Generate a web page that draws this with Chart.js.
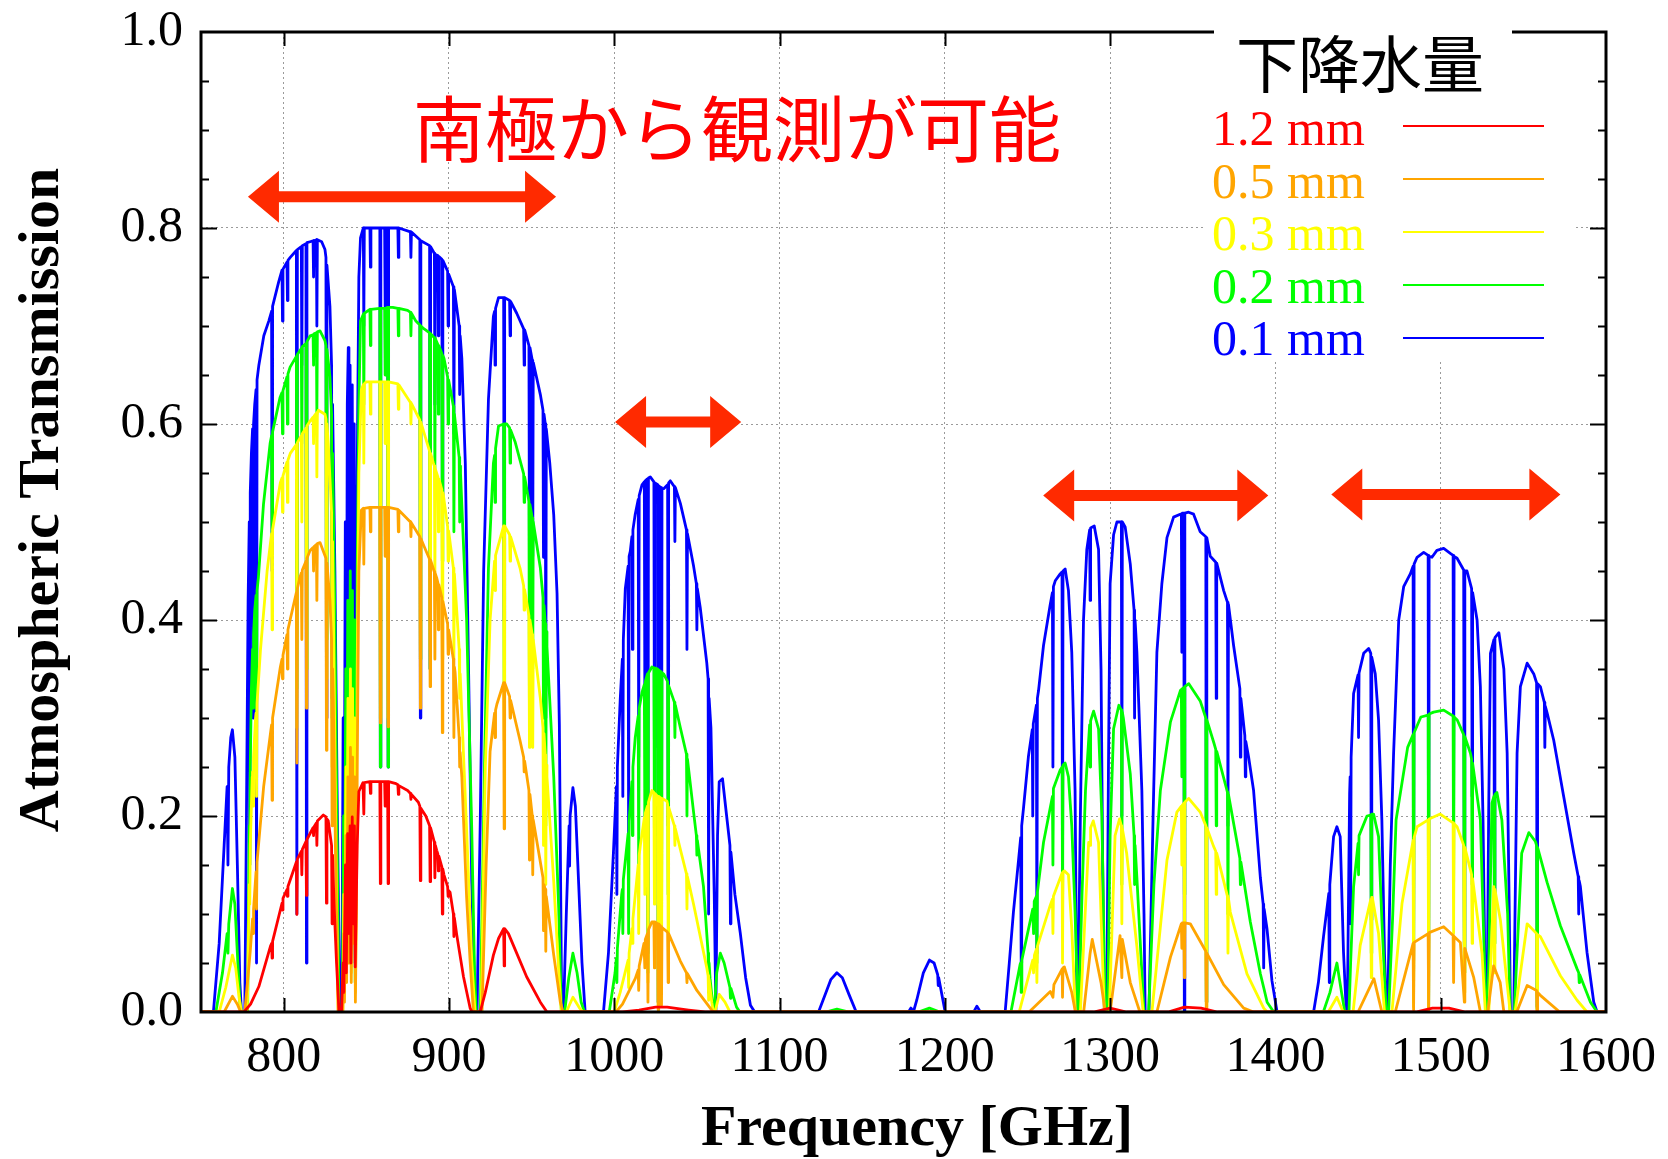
<!DOCTYPE html>
<html>
<head>
<meta charset="utf-8">
<script src="https://cdn.jsdelivr.net/npm/chart.js@4.4.1/dist/chart.umd.min.js"></script>
<style>
  html, body { margin: 0; padding: 0; background: #fff; }
  canvas { display: block; }
</style>
</head>
<body>
<canvas id="transmission" width="1668" height="1159" style="width:1668px;height:1159px"></canvas>
<script>
// Atmospheric transmission vs frequency for five precipitable water vapour levels.
// Each series is a list of [frequency GHz, transmission] pairs.

const pwvLabels = ["1.2 mm", "0.5 mm", "0.3 mm", "0.2 mm", "0.1 mm"];
const pwvColors = ["#ff0000", "#ffa500", "#ffff00", "#00ff00", "#0000ff"];

const xTickValues = [800, 900, 1000, 1100, 1200, 1300, 1400, 1500, 1600];
const yTickValues = [0, 0.2, 0.4, 0.6, 0.8, 1.0];

// windows observable from the South Pole: [from GHz, to GHz, height]
const arrowSpans = [
    [778.4, 964.8, 0.832],
    [1000.5, 1076.8, 0.602],
    [1259.5, 1395.7, 0.527],
    [1433.8, 1572.4, 0.528],
];

const pwv12 = [
    [750, 0], [776, 0], [780, 0.008], [785, 0.026], [792, 0.067], [792.7, 0.07], [793, 0.055], [793.3, 0.072],
    [799, 0.111], [799.3, 0.104], [799.6, 0.116], [802, 0.125], [802.3, 0.118], [802.6, 0.128],
    [807.7, 0.153], [808, 0.0996], [808.3, 0.156], [810.7, 0.164], [811, 0.14], [811.3, 0.166],
    [813.5, 0.174], [813.8, 0.119], [814.1, 0.176], [817.8, 0.188], [818.1, 0.18], [818.4, 0.189],
    [819.8, 0.193], [820.1, 0.17], [820.4, 0.195], [824, 0.201], [825.6, 0.199], [825.9, 0.111], [826.2, 0.197],
    [827, 0.195], [829, 0.17], [829.3, 0.09], [829.6, 0.16], [830.5, 0.11], [832, 0.05], [833.5, 0],
    [835, 0], [836, 0.05], [836.4, 0.02], [837.4, 0.15], [837.9, 0.04], [838.7, 0.182], [839.3, 0.08],
    [840.2, 0.19], [840.7, 0.05], [841.5, 0.199], [842.1, 0.09], [842.8, 0.19], [843.3, 0.046], [844, 0.12],
    [844.5, 0.17], [845.5, 0.225], [848, 0.234], [848.5, 0.202], [848.8, 0.234], [852.2, 0.235], [852.5, 0.223],
    [852.8, 0.235], [858.2, 0.235], [858.5, 0.131], [858.8, 0.235], [861.1, 0.235], [861.4, 0.21], [861.7, 0.235],
    [862.9, 0.235], [863.2, 0.131], [863.5, 0.235], [868, 0.233], [869.1, 0.232], [869.4, 0.222], [869.7, 0.231],
    [875, 0.226], [876.7, 0.223], [877, 0.217], [877.3, 0.222], [881.5, 0.214], [882.4, 0.21], [882.7, 0.134],
    [883, 0.208], [886, 0.2], [888.3, 0.19], [888.6, 0.133], [888.9, 0.188], [891.2, 0.173], [891.5, 0.137],
    [891.8, 0.17], [892.6, 0.165], [893.3, 0.161], [893.6, 0.144], [893.9, 0.159], [895.7, 0.148], [896, 0.1],
    [896.3, 0.146], [897, 0.14], [899.2, 0.128], [899.5, 0.118], [899.8, 0.124], [900.7, 0.122], [902.7, 0.1],
    [903, 0.077], [903.3, 0.096], [904.7, 0.079], [908.8, 0.036], [912.8, 0.004], [914, 0],
    [918.9, 0], [922, 0.02], [926.9, 0.058], [930, 0.075], [933.1, 0.085], [933.4, 0.047], [933.7, 0.085],
    [936, 0.08], [939, 0.068], [947, 0.036], [955.3, 0.01], [959.3, 0],
    [1005, 0], [1015, 0.002], [1025, 0.005], [1032, 0.005], [1045, 0.002], [1055, 0],
    [1290, 0], [1300, 0.004], [1310, 0], [1335, 0], [1345, 0.005], [1355, 0.004], [1365, 0],
    [1485, 0], [1495, 0.004], [1505, 0.004], [1515, 0], [1600, 0],
];

const pwv05 = [
    [750, 0], [764, 0], [769, 0.016], [772, 0.008], [774, 0],
    [776.5, 0], [779.8, 0.062], [781.2, 0.095], [781.5, 0.08], [781.8, 0.105], [783.3, 0.143], [783.6, 0.105],
    [783.9, 0.153], [787.9, 0.23], [792, 0.284], [792.7, 0.293], [793, 0.216], [793.3, 0.3], [798, 0.352],
    [799, 0.36], [799.3, 0.34], [799.6, 0.364], [802, 0.385], [802.3, 0.35], [802.6, 0.39], [803.9, 0.4],
    [807.7, 0.428], [808, 0.254], [808.3, 0.432], [809.9, 0.444], [810.7, 0.448], [811, 0.38], [811.3, 0.451],
    [813.5, 0.46], [813.8, 0.31], [814.1, 0.463], [816, 0.471], [817.8, 0.474], [818.1, 0.45], [818.4, 0.475],
    [819.8, 0.477], [820.1, 0.42], [820.4, 0.478], [822, 0.479], [825.6, 0.463], [825.9, 0.267], [826.2, 0.458],
    [828, 0.42], [829, 0.38], [829.3, 0.19], [829.6, 0.35], [830, 0.32], [831.5, 0.15], [833, 0],
    [835.8, 0], [836.4, 0.08], [836.8, 0.01], [837.7, 0.18], [838.1, 0.03], [838.9, 0.24], [839.5, 0.05],
    [840.4, 0.27], [840.9, 0.03], [841.7, 0.26], [842.2, 0.07], [842.9, 0.24], [843.4, 0.01], [844, 0.1],
    [844.5, 0.25], [845.5, 0.45], [847, 0.512], [848.2, 0.514], [848.5, 0.457], [848.8, 0.514], [852.2, 0.515],
    [852.5, 0.49], [852.8, 0.515], [858.2, 0.515], [858.5, 0.295], [858.8, 0.515], [861.1, 0.515], [861.4, 0.465],
    [861.7, 0.515], [862.9, 0.515], [863.2, 0.291], [863.5, 0.515], [869.1, 0.513], [869.4, 0.49], [869.7, 0.512],
    [876.7, 0.5], [877, 0.485], [877.3, 0.499], [882.4, 0.485], [882.7, 0.31], [883, 0.483], [885, 0.475],
    [888.3, 0.462], [888.6, 0.332], [888.9, 0.461], [891.2, 0.449], [891.5, 0.36], [891.8, 0.447], [892.6, 0.443],
    [893.3, 0.438], [893.6, 0.39], [893.9, 0.436], [895.7, 0.423], [896, 0.285], [896.3, 0.419], [898.7, 0.4],
    [899.2, 0.396], [899.5, 0.365], [899.8, 0.39], [902.7, 0.36], [903, 0.28], [903.3, 0.352], [903.7, 0.347],
    [906.2, 0.28], [906.5, 0.25], [906.8, 0.265], [907.8, 0.24], [910.7, 0.117], [912.8, 0.052], [914.8, 0],
    [920, 0], [922.5, 0.15], [924.9, 0.266], [927.6, 0.305], [927.9, 0.28], [928.2, 0.308], [929, 0.314],
    [933.1, 0.336], [933.4, 0.187], [933.7, 0.336], [936.7, 0.322], [937, 0.3], [937.3, 0.318], [943, 0.277],
    [945.2, 0.26], [945.5, 0.245], [945.8, 0.256], [948.4, 0.226], [948.7, 0.155], [949, 0.222], [950.4, 0.2],
    [950.7, 0.14], [951, 0.196], [956.9, 0.137], [957.2, 0.083], [957.5, 0.13], [958.3, 0.125], [958.6, 0.062],
    [958.9, 0.118], [963.4, 0.058], [967.4, 0.01], [969, 0],
    [1001, 0], [1005, 0.008], [1012.7, 0.034], [1014.5, 0.043], [1014.8, 0.022], [1015.1, 0.047], [1018, 0.07],
    [1018.5, 0.045], [1018.8, 0.074], [1020.1, 0.08], [1020.4, 0.01], [1020.7, 0.084], [1022.8, 0.092],
    [1024, 0.092], [1024.3, 0.045], [1024.6, 0.092], [1026.3, 0.09], [1026.6, 0.002], [1026.9, 0.09],
    [1028.3, 0.087], [1028.6, 0.007], [1028.9, 0.086], [1031.9, 0.082], [1032.3, 0.081], [1032.6, 0.03],
    [1032.9, 0.08], [1040, 0.052], [1043.7, 0.04], [1044, 0.03], [1044.3, 0.039], [1050, 0.022], [1059, 0.002], [1060, 0],
    [1251, 0], [1263.8, 0.021], [1265.4, 0.015], [1266, 0.028], [1271, 0.044], [1271.2, 0.015], [1271.5, 0.045],
    [1272.3, 0.046], [1276.8, 0.02], [1279, 0],
    [1284, 0], [1287.9, 0.06], [1289.2, 0.074], [1294.5, 0.03], [1297, 0],
    [1300, 0], [1306, 0.078], [1307.1, 0.035], [1307.4, 0.074], [1312.2, 0.03], [1318, 0],
    [1328.3, 0], [1336.5, 0.056], [1343.1, 0.09], [1343.4, 0.065], [1343.7, 0.091], [1344.6, 0.091], [1344.9, 0.035],
    [1345.2, 0.091], [1348.5, 0.09], [1357.9, 0.062], [1358.2, 0.002], [1358.5, 0.06], [1368.7, 0.028],
    [1380.8, 0.004], [1386.8, 0],
    [1450, 0], [1459.6, 0.034], [1464.4, 0],
    [1472.5, 0], [1483.3, 0.07], [1483.6, 0.002], [1483.9, 0.071], [1492.4, 0.08], [1492.7, 0], [1493, 0.081],
    [1501.8, 0.087], [1507.5, 0.078], [1507.8, 0.03], [1508.1, 0.077], [1511.9, 0.071], [1514.3, 0.01],
    [1514.6, 0.065], [1520, 0.035], [1524, 0],
    [1528.5, 0], [1532, 0.047], [1536, 0.03], [1538.2, 0],
    [1546, 0], [1552.3, 0.027], [1558, 0.022], [1558.3, 0], [1558.6, 0.02], [1560.3, 0.017], [1572, 0], [1600, 0],
];

const pwv03 = [
    [750, 0], [761, 0], [765, 0.025], [769, 0.058], [771, 0.045], [773, 0.015], [774.5, 0],
    [778, 0], [779.2, 0.13], [779.5, 0.11], [779.8, 0.17], [781, 0.24], [781.2, 0.245], [781.5, 0.21],
    [781.8, 0.26], [783, 0.3], [783.3, 0.305], [783.6, 0.22], [783.9, 0.315], [786, 0.37], [790, 0.45],
    [792.7, 0.488], [793, 0.39], [793.3, 0.492], [798, 0.54], [799, 0.545], [799.3, 0.51], [799.6, 0.547],
    [802, 0.561], [802.3, 0.52], [802.6, 0.563], [804, 0.57], [807.7, 0.579], [808, 0.29], [808.3, 0.581],
    [810, 0.586], [810.7, 0.588], [811, 0.5], [811.3, 0.59], [813.5, 0.596], [813.8, 0.35], [814.1, 0.598],
    [816, 0.603], [817.8, 0.607], [818.1, 0.58], [818.4, 0.608], [819.8, 0.611], [820.1, 0.546], [820.4, 0.612],
    [821, 0.614], [825, 0.61], [825.6, 0.605], [825.9, 0.34], [826.2, 0.6], [827, 0.58], [829, 0.51],
    [829.3, 0.25], [829.6, 0.48], [830.5, 0.35], [832, 0.12], [833, 0],
    [835.8, 0], [836.4, 0.12], [836.8, 0.02], [837.7, 0.25], [838.1, 0.05], [838.9, 0.32], [839.5, 0.08],
    [840.4, 0.35], [840.9, 0.04], [841.7, 0.33], [842.2, 0.1], [842.9, 0.3], [843.4, 0.02], [844, 0.15],
    [844.5, 0.35], [845.5, 0.55], [847, 0.635], [848.2, 0.64], [848.5, 0.56], [848.8, 0.641], [850, 0.643],
    [852.2, 0.643], [852.5, 0.61], [852.8, 0.643], [858.2, 0.643], [858.5, 0.3], [858.8, 0.643], [861.1, 0.643],
    [861.4, 0.58], [861.7, 0.643], [862.9, 0.643], [863.2, 0.3], [863.5, 0.643], [869.1, 0.641], [869.4, 0.615],
    [869.7, 0.64], [876.7, 0.622], [877, 0.6], [877.3, 0.621], [882.4, 0.604], [882.7, 0.37], [883, 0.602],
    [888.3, 0.572], [888.6, 0.37], [888.9, 0.57], [890.6, 0.56], [891.2, 0.557], [891.5, 0.445], [891.8, 0.554],
    [893.3, 0.546], [893.6, 0.49], [893.9, 0.544], [895.7, 0.533], [896, 0.36], [896.3, 0.53], [896.6, 0.528],
    [899.2, 0.495], [899.5, 0.46], [899.8, 0.491], [902.7, 0.453], [903, 0.36], [903.3, 0.447], [906.2, 0.37],
    [906.5, 0.32], [906.8, 0.345], [910.7, 0.186], [913.8, 0.052], [915.8, 0],
    [919.5, 0], [922, 0.25], [924.9, 0.4], [927.6, 0.46], [927.9, 0.43], [928.2, 0.466], [933.1, 0.496],
    [933.4, 0.277], [933.7, 0.496], [936.7, 0.487], [937, 0.46], [937.3, 0.485], [943, 0.453], [945.2, 0.435],
    [945.5, 0.41], [945.8, 0.431], [948.4, 0.404], [948.7, 0.27], [949, 0.4], [950.4, 0.385], [950.7, 0.27],
    [951, 0.38], [955.3, 0.32], [956.9, 0.29], [957.2, 0.17], [957.5, 0.284], [958.3, 0.262], [958.6, 0.13],
    [958.9, 0.252], [959.3, 0.24], [963.4, 0.133], [966.4, 0.042], [968, 0],
    [971, 0], [975, 0.015], [979, 0.004], [981, 0],
    [1000, 0], [1003.6, 0.02], [1008.4, 0.053], [1008.7, 0.025], [1009, 0.06], [1009.7, 0.07], [1010.7, 0.085],
    [1011, 0.07], [1011.3, 0.095], [1014.5, 0.15], [1014.8, 0.08], [1015.1, 0.16], [1015.8, 0.17],
    [1018.2, 0.198], [1018.5, 0.12], [1018.8, 0.203], [1020.1, 0.21], [1020.4, 0.03], [1020.7, 0.214],
    [1022.8, 0.226], [1024, 0.224], [1024.3, 0.11], [1024.6, 0.223], [1026.3, 0.22], [1026.6, 0.005],
    [1026.9, 0.22], [1028.3, 0.218], [1028.6, 0.02], [1028.9, 0.218], [1031.9, 0.215], [1032.3, 0.212],
    [1032.6, 0.08], [1032.9, 0.209], [1036.4, 0.19], [1036.7, 0.17], [1037, 0.187], [1040, 0.166],
    [1043.7, 0.141], [1044, 0.105], [1044.3, 0.138], [1048, 0.11], [1056, 0.045], [1056.8, 0.037],
    [1057.1, 0.012], [1057.4, 0.033], [1059, 0.01], [1060, 0],
    [1061, 0], [1063.5, 0.018], [1067, 0.01], [1070, 0],
    [1245, 0], [1253.2, 0.053], [1253.7, 0.04], [1254.2, 0.058], [1255.4, 0.064], [1255.7, 0.03], [1256, 0.067],
    [1263.8, 0.109], [1265.1, 0.115], [1265.4, 0.08], [1265.7, 0.118], [1271, 0.142], [1271.2, 0.05],
    [1271.5, 0.143], [1272.3, 0.144], [1274.8, 0.14], [1276.8, 0.085], [1279, 0],
    [1282, 0], [1287, 0.173], [1287.9, 0.17], [1288.2, 0.188], [1289.8, 0.195], [1293, 0.173], [1296.5, 0],
    [1299.5, 0], [1303, 0.18], [1305.7, 0.197], [1306.8, 0.19], [1307.1, 0.09], [1307.4, 0.187], [1310, 0.162],
    [1316.2, 0.067], [1320, 0],
    [1325.3, 0], [1334.4, 0.155], [1340.4, 0.204], [1343.1, 0.21], [1343.4, 0.15], [1343.7, 0.211],
    [1344.6, 0.213], [1344.9, 0.08], [1345.2, 0.214], [1347.5, 0.218], [1354.5, 0.204], [1357.9, 0.19],
    [1358.2, 0.005], [1358.5, 0.188], [1362.6, 0.169], [1363.9, 0.164], [1364.2, 0.12], [1364.5, 0.162],
    [1371, 0.118], [1371.3, 0.06], [1371.6, 0.116], [1372.7, 0.102], [1382.8, 0.039], [1392.9, 0.004], [1395, 0],
    [1432, 0], [1437.2, 0.015], [1441, 0],
    [1447, 0], [1451.3, 0.068], [1457.7, 0.115], [1458, 0.035], [1458.3, 0.117], [1458.6, 0.117], [1462.4, 0.08], [1466, 0],
    [1470.5, 0], [1476.6, 0.111], [1483.3, 0.175], [1483.6, 0.005], [1483.9, 0.178], [1485.7, 0.189],
    [1492.4, 0.196], [1492.7, 0], [1493, 0.197], [1499.7, 0.202], [1507.5, 0.193], [1507.8, 0.08], [1508.1, 0.192],
    [1509.9, 0.189], [1513.9, 0.17], [1514.3, 0.02], [1514.6, 0.168], [1518, 0.145], [1518.7, 0.14], [1519, 0.07],
    [1519.3, 0.136], [1525, 0.06], [1527, 0],
    [1529.1, 0], [1532.1, 0.128], [1532.5, 0.04], [1532.8, 0.125], [1536.1, 0.094], [1542, 0],
    [1545, 0], [1552.3, 0.09], [1558, 0.08], [1558.3, 0], [1558.6, 0.079], [1560.3, 0.077], [1572.4, 0.037],
    [1582.5, 0.012], [1588.5, 0], [1600, 0],
];

const pwv02 = [
    [750, 0], [759, 0], [763, 0.04], [765.8, 0.08], [766.3, 0.06], [766.8, 0.09], [769, 0.126], [770.5, 0.11],
    [772, 0.06], [773.5, 0.01], [774.5, 0],
    [778.2, 0], [779.2, 0.19], [779.5, 0.15], [779.8, 0.25], [780.5, 0.33], [781.2, 0.37], [781.5, 0.31],
    [781.8, 0.385], [782.5, 0.41], [783.3, 0.425], [783.6, 0.3], [783.9, 0.43], [784.7, 0.443], [787.8, 0.518],
    [791.8, 0.58], [792.7, 0.588], [793, 0.48], [793.3, 0.592], [797.8, 0.627], [799, 0.632], [799.3, 0.59],
    [799.6, 0.634], [802, 0.648], [802.3, 0.6], [802.6, 0.651], [803.9, 0.658], [807.7, 0.669], [808, 0.33],
    [808.3, 0.671], [809.9, 0.675], [810.7, 0.677], [811, 0.58], [811.3, 0.679], [813.5, 0.682], [813.8, 0.35],
    [814.1, 0.684], [816, 0.69], [817.8, 0.691], [818.1, 0.66], [818.4, 0.692], [819.8, 0.693], [820.1, 0.61],
    [820.4, 0.694], [822, 0.695], [825, 0.685], [825.6, 0.68], [825.9, 0.38], [826.2, 0.676], [828, 0.648],
    [829, 0.61], [829.3, 0.3], [829.6, 0.57], [831, 0.4], [832.5, 0.15], [833.5, 0],
    [835.5, 0], [836.3, 0.2], [836.7, 0.03], [837.6, 0.35], [838, 0.08], [838.8, 0.42], [839.5, 0.12],
    [840.3, 0.45], [840.8, 0.06], [841.6, 0.43], [842.1, 0.15], [842.8, 0.4], [843.3, 0.03], [844, 0.2],
    [844.5, 0.45], [845.5, 0.62], [846.5, 0.705], [848.2, 0.712], [848.5, 0.62], [848.8, 0.713], [852.2, 0.717],
    [852.5, 0.68], [852.8, 0.717], [858.2, 0.718], [858.5, 0.25], [858.8, 0.718], [861.1, 0.718], [861.4, 0.65],
    [861.7, 0.718], [862.9, 0.719], [863.2, 0.25], [863.5, 0.719], [866, 0.719], [869.1, 0.718], [869.4, 0.69],
    [869.7, 0.718], [875, 0.716], [876.7, 0.714], [877, 0.69], [877.3, 0.713], [880, 0.705], [882.4, 0.701],
    [882.7, 0.36], [883, 0.7], [885, 0.697], [888.3, 0.693], [888.6, 0.35], [888.9, 0.692], [891.2, 0.688],
    [891.5, 0.55], [891.8, 0.687], [893.3, 0.681], [893.6, 0.61], [893.9, 0.68], [895.7, 0.672], [896, 0.46],
    [896.3, 0.67], [897, 0.667], [899.2, 0.648], [899.5, 0.6], [899.8, 0.645], [902.7, 0.618], [903, 0.49],
    [903.3, 0.61], [906.2, 0.566], [906.5, 0.5], [906.8, 0.557], [907, 0.55], [910.7, 0.4], [913.8, 0.186],
    [915.5, 0.04], [916.5, 0],
    [919, 0], [921.5, 0.25], [923.9, 0.453], [926.9, 0.56], [927.6, 0.568], [927.9, 0.52], [928.2, 0.575],
    [930, 0.598], [933.1, 0.6], [933.4, 0.336], [933.7, 0.6], [935, 0.6], [936.7, 0.596], [937, 0.56],
    [937.3, 0.594], [940, 0.582], [945.2, 0.549], [945.5, 0.52], [945.8, 0.546], [948.4, 0.521], [948.7, 0.3],
    [949, 0.518], [950.4, 0.504], [950.7, 0.35], [951, 0.5], [955.3, 0.453], [956.9, 0.423], [957.2, 0.3],
    [957.5, 0.415], [958.3, 0.396], [958.6, 0.19], [958.9, 0.388], [959.3, 0.373], [963.4, 0.24], [966.4, 0.106], [968, 0],
    [970, 0], [972.5, 0.035], [975, 0.06], [977.5, 0.04], [980, 0.01], [982, 0],
    [997, 0], [1000.5, 0.04], [1001.3, 0.055], [1001.6, 0.03], [1001.9, 0.065], [1004.5, 0.12], [1004.9, 0.125],
    [1005.2, 0.08], [1005.5, 0.135], [1008.4, 0.182], [1008.7, 0.08], [1009, 0.195], [1010.7, 0.235], [1011, 0.18],
    [1011.3, 0.25], [1012.7, 0.28], [1014.5, 0.302], [1014.8, 0.15], [1015.1, 0.31], [1016.8, 0.326],
    [1018.2, 0.334], [1018.5, 0.2], [1018.8, 0.337], [1020.1, 0.345], [1020.4, 0.04], [1020.7, 0.346],
    [1022.8, 0.352], [1024, 0.351], [1024.3, 0.18], [1024.6, 0.351], [1026.3, 0.35], [1026.6, 0.01],
    [1026.9, 0.349], [1028.3, 0.347], [1028.6, 0.03], [1028.9, 0.346], [1029.9, 0.345], [1032.3, 0.337],
    [1032.6, 0.12], [1032.9, 0.333], [1036, 0.318], [1036.4, 0.316], [1036.7, 0.28], [1037, 0.313], [1040, 0.29],
    [1043.7, 0.263], [1044, 0.2], [1044.3, 0.258], [1048, 0.204], [1049.7, 0.18], [1050, 0.16], [1050.3, 0.175],
    [1054, 0.128], [1056.8, 0.06], [1057.1, 0.02], [1057.4, 0.05], [1058, 0.034], [1060, 0],
    [1060.5, 0], [1062, 0.04], [1064.2, 0.06], [1066.5, 0.05], [1070, 0.025], [1070.3, 0.014], [1070.6, 0.024],
    [1074, 0.005], [1076, 0],
    [1128, 0], [1134.7, 0.003], [1142, 0], [1184, 0], [1190.7, 0.004], [1197, 0],
    [1240, 0], [1245.6, 0.049], [1245.9, 0.05], [1246.2, 0.02], [1246.6, 0.053], [1253.2, 0.105], [1253.7, 0.08],
    [1254.1, 0.113], [1255.4, 0.118], [1255.7, 0.05], [1256, 0.122], [1259.7, 0.173], [1265.1, 0.22],
    [1265.4, 0.15], [1265.7, 0.228], [1269.8, 0.247], [1271, 0.25], [1271.2, 0.08], [1271.5, 0.252],
    [1272.8, 0.254], [1274.8, 0.24], [1276.8, 0.19], [1278.8, 0.102], [1280.5, 0],
    [1281, 0], [1283, 0.12], [1285.1, 0.226], [1287.6, 0.293], [1287.9, 0.25], [1288.2, 0.297], [1290, 0.307],
    [1293, 0.289], [1295, 0.2], [1296.5, 0.05], [1297, 0],
    [1298.5, 0], [1300, 0.18], [1302.1, 0.289], [1305.3, 0.313], [1306.8, 0.308], [1307.1, 0.13], [1307.4, 0.306],
    [1308, 0.3], [1312.2, 0.243], [1314.5, 0.18], [1314.8, 0.13], [1315.1, 0.17], [1316.2, 0.137], [1319.5, 0.03], [1320.5, 0],
    [1323.3, 0], [1326.5, 0.13], [1330.4, 0.226], [1336.5, 0.296], [1342.5, 0.328], [1343.1, 0.329],
    [1343.4, 0.24], [1343.7, 0.33], [1344.6, 0.331], [1344.9, 0.12], [1345.2, 0.332], [1347.6, 0.335],
    [1354.6, 0.317], [1357.9, 0.3], [1358.2, 0.01], [1358.5, 0.298], [1362.7, 0.275], [1363.9, 0.268],
    [1364.2, 0.19], [1364.5, 0.266], [1370.7, 0.226], [1371, 0.224], [1371.3, 0.1], [1371.6, 0.222],
    [1378.5, 0.157], [1378.8, 0.13], [1379.1, 0.153], [1384.8, 0.092], [1390.9, 0.039], [1392.9, 0.025],
    [1395, 0.01], [1399, 0],
    [1429, 0], [1433, 0.02], [1437.2, 0.05], [1440, 0.02], [1442, 0],
    [1444.5, 0], [1445.5, 0.05], [1447.3, 0.128], [1450, 0.172], [1450.3, 0.14], [1450.6, 0.18], [1455.4, 0.2],
    [1457.7, 0.201], [1458, 0.06], [1458.3, 0.202], [1459.4, 0.202], [1462.4, 0.179], [1464.4, 0.094], [1467, 0],
    [1468.5, 0], [1471, 0.1], [1473, 0.196], [1480, 0.27], [1483.3, 0.283], [1483.6, 0.01], [1483.9, 0.285],
    [1488, 0.301], [1492.4, 0.303], [1492.7, 0], [1493, 0.304], [1495.7, 0.306], [1501.8, 0.308],
    [1507.5, 0.302], [1507.8, 0.12], [1508.1, 0.301], [1510, 0.298], [1513.9, 0.283], [1514.3, 0.04],
    [1514.6, 0.281], [1518, 0.264], [1518.7, 0.258], [1519, 0.13], [1519.3, 0.254], [1524, 0.196],
    [1526.5, 0.05], [1527.5, 0],
    [1528.5, 0], [1531, 0.213], [1532.2, 0.22], [1532.5, 0.07], [1532.8, 0.222], [1534, 0.224], [1537, 0.196],
    [1540.5, 0.1], [1542, 0],
    [1544.5, 0], [1549, 0.162], [1553.3, 0.183], [1557.3, 0.174], [1558, 0.17], [1558.3, 0.003], [1558.6, 0.168],
    [1564.4, 0.132], [1572.4, 0.088], [1582.5, 0.044], [1583.5, 0.04], [1583.8, 0.03], [1584.1, 0.038],
    [1590.6, 0.01], [1594.6, 0], [1600, 0],
];

const pwv01 = [
    [750, 0], [757.5, 0], [761, 0.07], [764, 0.17], [765.8, 0.23], [766.3, 0.15], [766.8, 0.25], [768, 0.28],
    [769, 0.288], [770.5, 0.26], [772, 0.15], [773.5, 0.03], [774.5, 0],
    [776.5, 0], [777.5, 0.2], [778.5, 0.42], [779.2, 0.5], [779.5, 0.15], [779.8, 0.53], [780.5, 0.57],
    [781.2, 0.595], [781.5, 0.3], [781.8, 0.6], [782.5, 0.62], [783.3, 0.635], [783.6, 0.05], [783.9, 0.645],
    [785, 0.66], [788, 0.69], [791, 0.705], [792.7, 0.715], [793, 0.45], [793.3, 0.72], [797, 0.745],
    [799, 0.757], [799.3, 0.705], [799.6, 0.758], [802, 0.765], [802.3, 0.726], [802.6, 0.767], [804, 0.77],
    [807.7, 0.777], [808, 0.1], [808.3, 0.778], [810.7, 0.781], [811, 0.66], [811.3, 0.782], [813.5, 0.784],
    [813.8, 0.05], [814.1, 0.785], [816, 0.786], [817.8, 0.787], [818.1, 0.75], [818.4, 0.787], [819.8, 0.788],
    [820.1, 0.7], [820.4, 0.788], [823, 0.786], [825, 0.778], [825.6, 0.77], [825.9, 0.3], [826.2, 0.762],
    [828, 0.72], [829, 0.66], [829.3, 0.32], [829.6, 0.62], [831, 0.45], [832.5, 0.2], [834, 0],
    [835.2, 0], [836, 0.3], [836.5, 0.05], [837.3, 0.5], [837.8, 0.12], [838.5, 0.62], [839.1, 0.678],
    [839.5, 0.2], [840.2, 0.66], [840.8, 0.1], [841.5, 0.64], [842, 0.25], [842.7, 0.6], [843.3, 0.05], [844, 0.3],
    [844.5, 0.55], [845.5, 0.75], [846.5, 0.79], [848.2, 0.8], [848.5, 0.7], [848.8, 0.8], [852.2, 0.8],
    [852.5, 0.76], [852.8, 0.8], [858.2, 0.8], [858.5, 0.25], [858.8, 0.8], [861.1, 0.8], [861.4, 0.72],
    [861.7, 0.8], [862.9, 0.8], [863.2, 0.25], [863.5, 0.8], [869.1, 0.8], [869.4, 0.77], [869.7, 0.8],
    [876.7, 0.796], [877, 0.77], [877.3, 0.796], [882.4, 0.788], [882.7, 0.3], [883, 0.787], [888.3, 0.782],
    [888.6, 0.35], [888.9, 0.781], [891.2, 0.774], [891.5, 0.62], [891.8, 0.773], [893.3, 0.772], [893.6, 0.69],
    [893.9, 0.771], [895.7, 0.768], [896, 0.52], [896.3, 0.767], [899.2, 0.756], [899.5, 0.7], [899.8, 0.753],
    [902.7, 0.74], [903, 0.59], [903.3, 0.737], [906.2, 0.7], [906.5, 0.63], [906.8, 0.69], [907.8, 0.667],
    [909.9, 0.56], [911.9, 0.347], [913.8, 0.133], [915.8, 0],
    [917, 0], [919, 0.2], [921, 0.45], [923.9, 0.625], [926.9, 0.71], [927.6, 0.715], [927.9, 0.66],
    [928.2, 0.718], [930, 0.729], [933.1, 0.729], [933.4, 0.4], [933.7, 0.729], [936.7, 0.726], [937, 0.69],
    [937.3, 0.725], [941, 0.713], [945.2, 0.697], [945.5, 0.66], [945.8, 0.696], [948.4, 0.68], [948.7, 0.46],
    [949, 0.678], [950.4, 0.665], [950.7, 0.465], [951, 0.663], [955.3, 0.63], [956.9, 0.614], [957.2, 0.464],
    [957.5, 0.61], [958.3, 0.6], [958.6, 0.3], [958.9, 0.595], [961, 0.56], [963.4, 0.507], [965.4, 0.427],
    [966.8, 0.293], [968.2, 0],
    [969.3, 0], [971, 0.1], [972.7, 0.19], [973, 0.149], [973.3, 0.2], [975, 0.229], [976.5, 0.21],
    [978.5, 0.13], [980.5, 0.05], [982.4, 0],
    [993.5, 0], [996.5, 0.06], [999.6, 0.166], [1001.3, 0.23], [1001.6, 0.12], [1001.9, 0.25], [1003.6, 0.318],
    [1004.9, 0.36], [1005.2, 0.22], [1005.5, 0.38], [1006.7, 0.432], [1008.4, 0.455], [1008.7, 0.18],
    [1009, 0.465], [1009.7, 0.47], [1010.7, 0.485], [1011, 0.37], [1011.3, 0.492], [1012.7, 0.508],
    [1014.5, 0.523], [1014.8, 0.26], [1015.1, 0.527], [1016.8, 0.538], [1018.2, 0.541], [1018.5, 0.33],
    [1018.8, 0.542], [1020.1, 0.544], [1020.4, 0.06], [1020.7, 0.545], [1021.8, 0.546], [1024, 0.541],
    [1024.3, 0.27], [1024.6, 0.54], [1026.3, 0.538], [1026.6, 0.01], [1026.9, 0.537], [1028.3, 0.535],
    [1028.6, 0.04], [1028.9, 0.534], [1029.9, 0.534], [1032.3, 0.538], [1032.6, 0.19], [1032.9, 0.54],
    [1033.9, 0.542], [1036.4, 0.536], [1036.7, 0.48], [1037, 0.535], [1040, 0.519], [1043.7, 0.492],
    [1044, 0.37], [1044.3, 0.488], [1048, 0.455], [1049.7, 0.437], [1050, 0.39], [1050.3, 0.432],
    [1052, 0.413], [1056, 0.356], [1056.8, 0.34], [1057.1, 0.1], [1057.4, 0.32], [1058.5, 0.29],
    [1060.5, 0.12], [1061.5, 0],
    [1062.5, 0.18], [1063.5, 0.235], [1065.5, 0.238], [1068, 0.2], [1070, 0.17], [1070.3, 0.09], [1070.6, 0.163],
    [1073, 0.12], [1076.3, 0.08], [1079.5, 0.035], [1082.4, 0.007], [1085, 0],
    [1123.6, 0], [1127, 0.015], [1131, 0.033], [1134.7, 0.04], [1138, 0.035], [1142, 0.018], [1146.4, 0],
    [1178, 0], [1179.5, 0.004], [1181, 0], [1183, 0.012], [1187, 0.04], [1190.7, 0.053], [1193.5, 0.05],
    [1195.7, 0.038], [1196, 0.027], [1196.3, 0.035], [1200.2, 0], [1217.5, 0], [1219.4, 0.006], [1221.5, 0],
    [1236.5, 0], [1239, 0.05], [1241.5, 0.102], [1244.6, 0.155], [1245.9, 0.178], [1246.2, 0.05], [1246.5, 0.19],
    [1247.6, 0.208], [1250.6, 0.261], [1252.9, 0.288], [1253.2, 0.2], [1253.5, 0.294], [1255.4, 0.313],
    [1255.7, 0.06], [1256, 0.32], [1256.7, 0.328], [1259.7, 0.374], [1263.8, 0.416], [1265.1, 0.428],
    [1265.4, 0.25], [1265.7, 0.434], [1266.8, 0.44], [1269.8, 0.447], [1270.9, 0.449], [1271.2, 0.1],
    [1271.5, 0.45], [1272.8, 0.452], [1274.8, 0.43], [1276.8, 0.367], [1278.8, 0.226], [1279.9, 0],
    [1280.5, 0], [1282, 0.2], [1283.9, 0.4], [1285.9, 0.472], [1287.6, 0.492], [1287.9, 0.42], [1288.2, 0.494],
    [1290.4, 0.496], [1293, 0.472], [1294.5, 0.35], [1295.5, 0.15], [1296.5, 0],
    [1298, 0], [1299, 0.25], [1300, 0.437], [1302.1, 0.487], [1304.1, 0.5], [1306.8, 0.5], [1307.1, 0.2],
    [1307.4, 0.5], [1309.1, 0.495], [1312.2, 0.457], [1314.5, 0.41], [1314.8, 0.3], [1315.1, 0.4],
    [1316.2, 0.367], [1319.2, 0.226], [1320.5, 0.1], [1321.2, 0],
    [1323.5, 0], [1326, 0.2], [1328.3, 0.367], [1331.3, 0.437], [1334.4, 0.484], [1338.4, 0.505],
    [1342.4, 0.508], [1343.1, 0.508], [1343.4, 0.367], [1343.7, 0.509], [1344.6, 0.509], [1344.9, 0],
    [1345.2, 0.509], [1347.5, 0.51], [1350.5, 0.508], [1354.5, 0.49], [1357.9, 0.485], [1358.2, 0.01],
    [1358.5, 0.484], [1360.6, 0.465], [1363.9, 0.459], [1364.2, 0.32], [1364.5, 0.458], [1368.7, 0.43],
    [1371, 0.418], [1371.3, 0.19], [1371.6, 0.416], [1374.7, 0.374], [1378.5, 0.33], [1378.8, 0.26],
    [1379.1, 0.32], [1381.5, 0.282], [1381.8, 0.24], [1382.1, 0.276], [1383.8, 0.26], [1386.8, 0.226],
    [1390.9, 0.137], [1392.6, 0.11], [1392.9, 0.045], [1393.2, 0.105], [1394.9, 0.085], [1397.9, 0.032], [1401, 0],
    [1423.1, 0], [1426, 0.03], [1429.1, 0.077], [1432.3, 0.121], [1432.6, 0.03], [1432.9, 0.13], [1435.2, 0.179],
    [1437.2, 0.189], [1439.2, 0.179], [1441.2, 0.061], [1442.9, 0],
    [1443.5, 0], [1444.9, 0.223], [1445.2, 0.24], [1445.5, 0.09], [1445.8, 0.26], [1447.3, 0.325], [1450, 0.344],
    [1450.3, 0.28], [1450.6, 0.346], [1453.4, 0.366], [1456.4, 0.371], [1457.7, 0.366], [1458, 0.094],
    [1458.3, 0.362], [1460.4, 0.345], [1462.4, 0.298], [1464.4, 0.196], [1466, 0.06], [1467.1, 0],
    [1467.9, 0], [1469.5, 0.15], [1471.5, 0.264], [1474.6, 0.4], [1477.6, 0.434], [1481.6, 0.447],
    [1483.3, 0.455], [1483.6, 0.02], [1483.9, 0.457], [1485.7, 0.464], [1489.7, 0.469], [1492.4, 0.466],
    [1492.7, 0], [1493, 0.465], [1494.7, 0.464], [1497.7, 0.471], [1501.8, 0.473], [1505.8, 0.468],
    [1507.5, 0.466], [1507.8, 0.19], [1508.1, 0.465], [1509.9, 0.463], [1513.9, 0.451], [1514.3, 0.06],
    [1514.6, 0.45], [1515.9, 0.45], [1518.7, 0.432], [1519, 0.22], [1519.3, 0.428], [1522, 0.4], [1524, 0.332],
    [1525.6, 0.196], [1527.1, 0],
    [1528.1, 0], [1529, 0.2], [1530.1, 0.366], [1532.2, 0.38], [1532.5, 0.11], [1532.8, 0.382], [1535.2, 0.387],
    [1538.2, 0.35], [1540.2, 0.264], [1541.5, 0.1], [1542.2, 0],
    [1544.2, 0], [1546.2, 0.264], [1548.2, 0.332], [1552.3, 0.356], [1556.3, 0.345], [1558, 0.336],
    [1558.3, 0.005], [1558.6, 0.335], [1560.3, 0.332], [1562.7, 0.316], [1563, 0.27], [1563.3, 0.312],
    [1564.4, 0.305], [1568.4, 0.277], [1574.4, 0.22], [1580.5, 0.162], [1583.2, 0.138], [1583.5, 0.1],
    [1583.8, 0.134], [1584.5, 0.128], [1588.5, 0.061], [1592.6, 0.01], [1594.6, 0], [1600, 0],
];

// first series is drawn on top
const seriesList = [pwv12, pwv05, pwv03, pwv02, pwv01];

const SERIF = "'Liberation Serif', 'Times New Roman', serif";
const GOTHIC = "'Noto Sans CJK JP', 'Noto Sans', sans-serif";
const ARROW_COLOR = "#ff2a00";

// frame, inward tick marks, axis titles and the annotations
const decorations = {
    id: "decorations",
    afterDatasetsDraw(chart) {
        const { ctx, chartArea: a, scales } = chart;
        const x = scales.x, y = scales.y;

        ctx.save();
        ctx.strokeStyle = "#000";
        ctx.lineWidth = 2;
        ctx.beginPath();
        xTickValues.forEach((v) => {
            if (v >= 1600) return;
            const px = Math.round(x.getPixelForValue(v)) + 0.5;
            ctx.moveTo(px, a.bottom); ctx.lineTo(px, a.bottom - 14);
            ctx.moveTo(px, a.top); ctx.lineTo(px, a.top + 14);
        });
        for (let i = 1; i < 20; i++) {
            const v = i * 0.05;
            const len = i % 4 === 0 ? 16 : 8;
            const py = Math.round(y.getPixelForValue(v)) + 0.5;
            ctx.moveTo(a.left, py); ctx.lineTo(a.left + len, py);
            ctx.moveTo(a.right, py); ctx.lineTo(a.right - len, py);
        }
        ctx.stroke();

        ctx.lineWidth = 3;
        ctx.strokeRect(a.left, a.top, a.right - a.left, a.bottom - a.top);
        ctx.restore();
    },
    afterDraw(chart) {
        const { ctx, scales } = chart;
        const x = scales.x, y = scales.y;
        ctx.save();

        // axis titles
        ctx.fillStyle = "#000";
        ctx.font = "bold 58px " + SERIF;
        ctx.textAlign = "center";
        ctx.textBaseline = "alphabetic";
        ctx.fillText("Frequency [GHz]", 917, 1145);

        ctx.save();
        ctx.translate(58, 500);
        ctx.rotate(-Math.PI / 2);
        ctx.fillText("Atmospheric Transmission", 0, 0);
        ctx.restore();

        // legend box
        ctx.fillStyle = "#fff";
        ctx.fillRect(1214, 18, 298, 90);
        ctx.fillRect(1205, 100, 370, 262);

        ctx.fillStyle = "#000";
        ctx.font = "62px " + GOTHIC;
        ctx.textAlign = "left";
        ctx.fillText("下降水量", 1236, 88);

        ctx.font = "50px " + SERIF;
        pwvLabels.forEach((label, i) => {
            ctx.fillStyle = pwvColors[i];
            ctx.fillText(label, 1212, 145 + i * 52.5);
            ctx.strokeStyle = pwvColors[i];
            ctx.lineWidth = 2;
            ctx.beginPath();
            const ly = 126 + i * 53;
            ctx.moveTo(1403, ly); ctx.lineTo(1544, ly);
            ctx.stroke();
        });

        // observable windows
        ctx.fillStyle = ARROW_COLOR;
        arrowSpans.forEach(([f0, f1, h]) => {
            const x0 = x.getPixelForValue(f0), x1 = x.getPixelForValue(f1);
            const py = y.getPixelForValue(h);
            const head = 31, half = 26, shaft = 5.5;
            ctx.beginPath();
            ctx.moveTo(x0, py);
            ctx.lineTo(x0 + head, py - half);
            ctx.lineTo(x0 + head, py - shaft);
            ctx.lineTo(x1 - head, py - shaft);
            ctx.lineTo(x1 - head, py - half);
            ctx.lineTo(x1, py);
            ctx.lineTo(x1 - head, py + half);
            ctx.lineTo(x1 - head, py + shaft);
            ctx.lineTo(x0 + head, py + shaft);
            ctx.lineTo(x0 + head, py + half);
            ctx.closePath();
            ctx.fill();
        });

        ctx.fillStyle = "#ff0000";
        ctx.font = "72px " + GOTHIC;
        ctx.textAlign = "center";
        ctx.fillText("南極から観測が可能", 737, 156);

        ctx.restore();
    },
};

const ctx = document.getElementById("transmission").getContext("2d");

new Chart(ctx, {
    type: "line",
    data: {
        datasets: seriesList.map((pts, i) => ({
            label: pwvLabels[i],
            data: pts.map(([f, t]) => ({ x: f, y: t })),
            borderColor: pwvColors[i],
            borderWidth: 2.8,
            borderJoinStyle: "round",
            borderCapStyle: "round",
            pointRadius: 0,
            tension: 0,
            fill: false,
        })),
    },
    options: {
        responsive: false,
        animation: false,
        devicePixelRatio: 1,
        layout: { padding: { top: 32, right: 62, bottom: 0, left: 0 } },
        plugins: {
            legend: { display: false },
            tooltip: { enabled: false },
        },
        scales: {
            x: {
                type: "linear",
                min: 750,
                max: 1600,
                afterBuildTicks: (scale) => {
                    scale.ticks = xTickValues.map((v) => ({ value: v }));
                },
                // keep the plot box fixed: labels may overhang into the padding
                afterFit: (scale) => {
                    scale.height = 147;
                    scale.paddingLeft = 0;
                    scale.paddingRight = 0;
                },
                grid: { color: "#9a9a9a", lineWidth: 1, drawTicks: false },
                border: { display: false, dash: [2, 3] },
                ticks: {
                    padding: 16,
                    maxRotation: 0,
                    autoSkip: false,
                    color: "#000",
                    font: { family: SERIF, size: 50 },
                    callback: (v) => String(v),
                },
            },
            y: {
                min: 0,
                max: 1,
                afterBuildTicks: (scale) => {
                    scale.ticks = yTickValues.map((v) => ({ value: v }));
                },
                afterFit: (scale) => {
                    scale.width = 201;
                    scale.paddingTop = 0;
                    scale.paddingBottom = 0;
                },
                grid: { color: "#9a9a9a", lineWidth: 1, drawTicks: false },
                border: { display: false, dash: [2, 3] },
                ticks: {
                    padding: 18,
                    color: "#000",
                    font: { family: SERIF, size: 50 },
                    callback: (v) => v.toFixed(1),
                },
            },
        },
    },
    plugins: [decorations],
});
</script>
</body>
</html>
